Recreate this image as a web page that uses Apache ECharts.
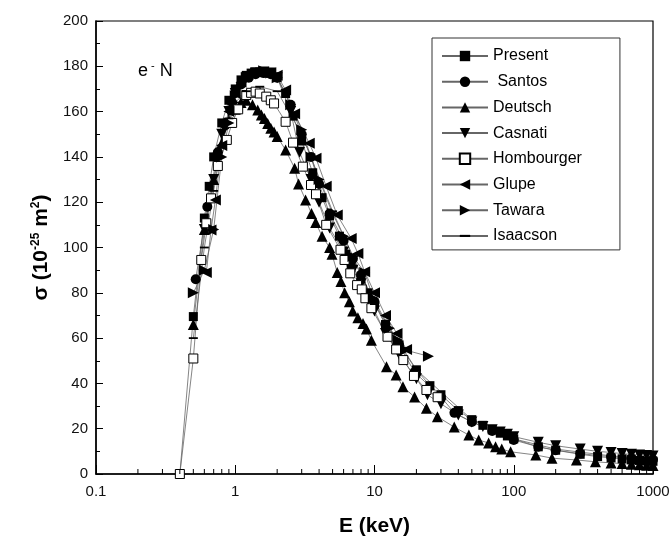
<!DOCTYPE html>
<html>
<head>
<meta charset="utf-8">
<script src="https://cdn.jsdelivr.net/npm/echarts@6/dist/echarts.min.js"></script>
<style>html,body{margin:0;padding:0;background:#fff;}#c{width:671px;height:538px;}</style>
</head>
<body>
<div id="c"></div>
<script>
// ---- data ----
const xTickLabels = ['0.1', '1', '10', '100', '1000'];
const yTickLabels = ['0', '20', '40', '60', '80', '100', '120', '140', '160', '180', '200'];
const seriesNames = ['Present', ' Santos', 'Deutsch', 'Casnati', 'Hombourger', 'Glupe', 'Tawara', 'Isaacson'];

const presentE = [0.4,0.5,0.6,0.65,0.7,0.8,0.9,1.0,1.1,1.2,1.3,1.4,1.5,1.6,1.8,2.0,2.3,2.6,3.0,3.6,4.2,4.76,5.6,6.2,6.8,8,9,10,12,15,20,25,30,40,50,60,70,80,90,100,150,200,300,400,500,600,700,800,900,1000];
const presentS = [0,69.5,113,127,140,155,165,170,174,176,177,177.5,177.5,177.5,177,175,168,158,147,133,122,114,105,97,92,86,80,75,66,57,46,39,35,28,24,21.5,19.5,18,16.8,15.5,12,10.5,8.7,7.7,7.1,6.7,6.3,6.0,5.8,5.6];

const santosE = [0.52,0.63,0.75,0.85,0.95,1.1,1.25,1.4,1.6,1.8,2.0,2.5,3.0,3.5,4.0,4.76,6,7,8,10,12,15,19.4,30,37.5,50,70,100,150,200,300,500,700,1000];
const santosS = [86,118,142,154,164,172,175,176.5,177,176.5,175,163,150,140,128,115,103,95,88,76,66,57,45,34,27,23,19,15,12,10.5,9,7.6,6.9,6.3];

const deutschE = [0.5,0.6,0.7,0.8,0.9,1.0,1.1,1.2,1.33,1.45,1.54,1.62,1.71,1.8,1.9,2.0,2.3,2.67,2.85,3.2,3.53,3.78,4.2,4.76,4.95,5.4,5.74,6.1,6.6,6.97,7.6,8.27,8.75,9.5,12.2,14.3,16,19.4,23.6,28.3,37.4,47.6,56,66,74,82,95,144,188,282,386,500,600,700,800,900,1000];
const deutschS = [66,108,130,146,156,161,164,165,163,160.7,158.5,157,154.8,152.6,151,149,143,135,128,121,115,111,105,100,97,89,85,80,76,72,69,66.5,64,59,47.4,43.7,38.5,34,29,25.3,20.7,17.2,15,13.7,12,11,9.8,8.4,7,6.2,5.4,4.9,4.6,4.3,4.1,3.9,3.7];

const casnatiE = [0.6,0.7,0.8,0.9,1.0,1.2,1.4,1.6,1.8,2.0,2.5,2.9,3.5,4.0,4.76,6,7,8,10,12,15,20,24,30,40,50,60,70,80,90,100,150,200,300,400,500,600,700,800,900,1000];
const casnatiS = [108,130,150,160,168,175,177,177.5,177,175,160,142,130,120,108.6,98,90,84,72,62,53,42,35,31,26,23,21,19.5,18.5,17.5,16.5,14,12.5,11,10,9.5,9,8.7,8.4,8.2,8];

const hombE = [0.4,0.5,0.57,0.62,0.67,0.75,0.87,0.95,1.05,1.2,1.3,1.4,1.5,1.67,1.8,1.9,2.3,2.6,3.06,3.5,3.8,4.5,5.7,6.1,6.7,7.5,8.1,8.6,9.5,12.4,14.3,16.1,19.2,23.6,28.4];
const hombS = [0,51,94.5,110.7,121.7,136,147.5,155,161,167.3,168.3,168.8,168,166.6,165,163.6,155.5,146.3,135.7,127.6,123.5,110,99,94.5,88.6,83.4,81.5,77.6,73.2,60.6,55,50.3,43.3,37.1,33.9];

const glupeE = [0.62,0.67,0.72,0.8,0.9,1.0,1.1,1.2,1.4,1.6,1.8,2.0,2.3,2.67,3.4,3.8,4.5,5.4,6.8,7.6,8.5,10,12,14.5,17];
const glupeS = [89,107.7,121,145,160,168,173,176,177.5,177.5,177,176,169.5,159,146,139.4,127,114.3,104,97.4,89.3,80,70,62,55];

const tawaraE = [0.5,0.6,0.7,0.8,0.9,1.0,1.2,1.4,1.6,1.8,2.0,2.5,3.0,3.5,4.0,5.0,6.0,7.0,8.5,9.8,12.8,14.7,16.7,24.4];
const tawaraS = [80,90,108,140,155,167,175,177,178,177,175,163,152,140,130,115,105,96,89,77.6,64.3,59.2,54.7,52];

const isaE = [0.5,0.6,0.7,0.8,0.9,1.0,1.2,1.5,2.0,3.0,5.0,10,20,50,100,200,500,1000];
const isaS = [60,100,125,145,157,164,169,171,169,150,116,75,46,24,15.5,11,8,6.5];

// ---- build chart ----
const FONT = 'Liberation Sans, Arial, sans-serif';
const zip = (a, b) => a.map((v, i) => [v, b[i]]);
const minorE = [];
[0.1, 1, 10, 100].forEach(d => { for (let k = 2; k <= 9; k++) minorE.push([+(d * k).toPrecision(3), 0]); });

const LINE = { color: '#666', width: 0.8 };
function mk(name, data, symbol, size, extra) {
  return Object.assign({
    name: name, type: 'line', data: data, symbol: symbol, symbolSize: size,
    showAllSymbol: true, lineStyle: LINE, itemStyle: { color: '#000' },
    emphasis: { disabled: true }, animation: false, clip: false
  }, extra || {});
}
const dashPath = 'path://M0,4H10V6H0Z M5,0L5,0 M5,10L5,10';

const series = [
  mk(seriesNames[0], zip(presentE, presentS), 'rect', 9),
  mk(seriesNames[1], zip(santosE, santosS), 'circle', 10),
  mk(seriesNames[2], zip(deutschE, deutschS), 'triangle', 11),
  mk(seriesNames[3], zip(casnatiE, casnatiS), 'triangle', 11, { symbolRotate: 180 }),
  mk(seriesNames[4], zip(hombE, hombS), 'rect', 9, { z: 3, itemStyle: { color: '#fff', borderColor: '#000', borderWidth: 1 } }),
  mk(seriesNames[5], zip(glupeE, glupeS), 'triangle', 11, { symbolRotate: 90 }),
  mk(seriesNames[6], zip(tawaraE, tawaraS), 'triangle', 11, { symbolRotate: -90 }),
  mk(seriesNames[7], zip(isaE, isaS), dashPath, 9),
  {
    name: 'minorTicks', type: 'custom', data: minorE, silent: true, z: 5, clip: false, animation: false,
    renderItem: function (params, api) {
      const p = api.coord([api.value(0), 0]);
      return { type: 'line', shape: { x1: p[0], y1: p[1], x2: p[0], y2: p[1] - 5 }, style: { stroke: '#000', lineWidth: 1 } };
    }
  }
];

const chart = echarts.init(document.getElementById('c'), null, { renderer: 'canvas' });
chart.setOption({
  backgroundColor: '#fff',
  animation: false,
  textStyle: { fontFamily: FONT },
  grid: { left: 96, right: 18, top: 21, bottom: 64, show: true, borderColor: '#000', borderWidth: 1.2,
    containLabel: false, outerBoundsMode: 'none' },
  xAxis: {
    type: 'log', logBase: 10, min: 0.1, max: 1000,
    name: 'E (keV)', nameLocation: 'middle', nameGap: 42,
    nameTextStyle: { fontFamily: FONT, fontSize: 21, fontWeight: 'bold', color: '#000' },
    axisLine: { lineStyle: { color: '#000', width: 1.5 } },
    axisTick: { inside: true, length: 9, lineStyle: { color: '#000', width: 1 } },
    axisLabel: { fontFamily: FONT, fontSize: 15, color: '#111', margin: 10,
      formatter: function (v) { const s = String(+(+v).toPrecision(3)); return xTickLabels.indexOf(s) >= 0 ? s : ''; } },
    splitLine: { show: false }
  },
  yAxis: {
    type: 'value', min: 0, max: 200, interval: 20,
    name: 'σ (10{s|-25} m{s|2})', nameLocation: 'middle', nameGap: 44,
    nameTextStyle: { fontFamily: FONT, fontSize: 21, fontWeight: 'bold', color: '#000',
      rich: { s: { fontFamily: FONT, fontSize: 12, fontWeight: 'bold', color: '#000', verticalAlign: 'top', lineHeight: 22 } } },
    axisLine: { show: true, lineStyle: { color: '#000', width: 1.5 } },
    axisTick: { show: true, inside: true, length: 7, lineStyle: { color: '#000', width: 1 } },
    minorTick: { show: true, splitNumber: 2, length: 4, lineStyle: { color: '#000', width: 1 } },
    axisLabel: { fontFamily: FONT, fontSize: 15, color: '#111', margin: 8,
      formatter: function (v) { const s = String(v); return yTickLabels.indexOf(s) >= 0 ? s : ''; } },
    splitLine: { show: false }
  },
  legend: {
    data: seriesNames, orient: 'vertical', left: 432, top: 38,
    padding: [10, 38, 6, 9], itemWidth: 46, itemHeight: 13, itemGap: 9.7,
    borderColor: '#333', borderWidth: 1, selectedMode: false,
    textStyle: { fontFamily: FONT, fontSize: 16, color: '#000', padding: [0, 0, 0, 0], lineHeight: 16 },
    inactiveColor: '#000'
  },
  graphic: [{
    type: 'text', left: 138, top: 60, silent: true,
    style: {
      text: '{b|e}{s| -}{b| N}',
      rich: {
        b: { fontFamily: FONT, fontSize: 18, fill: '#000', lineHeight: 22 },
        s: { fontFamily: FONT, fontSize: 11, fill: '#000', verticalAlign: 'top', lineHeight: 22 }
      }
    }
  }],
  series: series
});
</script>
</body>
</html>
